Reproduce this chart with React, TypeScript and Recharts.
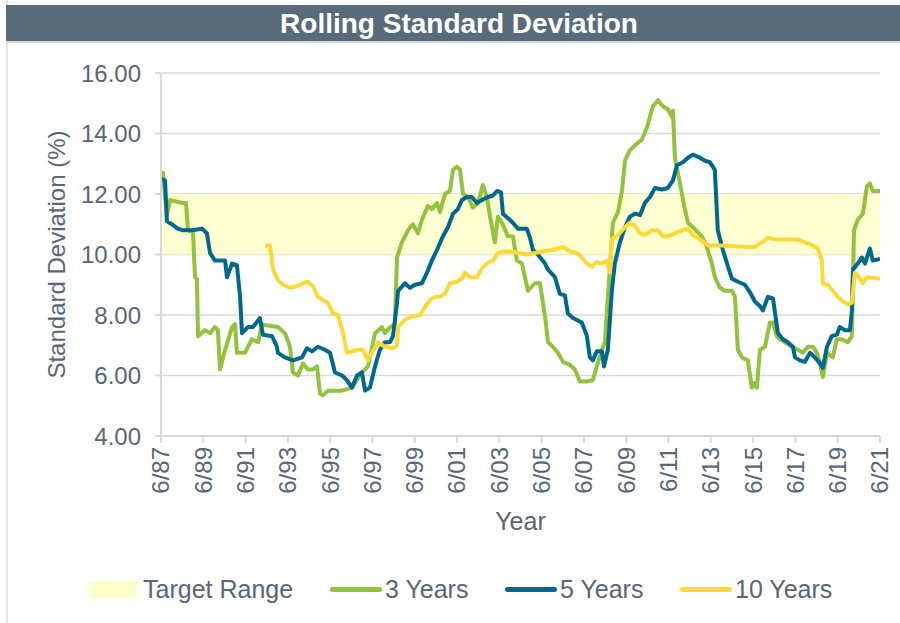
import { LineChart, Line, XAxis, YAxis, CartesianGrid, ReferenceArea, Label } from "recharts";

const FONT = '"Liberation Sans", Arial, sans-serif';
const TEXT = "#586676";
const GRID = "#d9d9d9";

// [year, std dev %], June 1987 .. June 2021
const threeYears: [number, number][] = [
  [1987.5, 12.7], [1987.59, 12.7], [1987.78, 11.3], [1987.93, 11.8], [1988.54, 11.7], [1988.68, 11.7],
  [1988.78, 10.8], [1989.01, 10.75], [1989.11, 9.25], [1989.2, 9.2], [1989.25, 7.3], [1989.58, 7.5],
  [1989.82, 7.4], [1990.05, 7.6], [1990.19, 7.5], [1990.29, 6.2], [1990.53, 6.85], [1990.86, 7.6],
  [1991.0, 7.7], [1991.09, 6.75], [1991.47, 6.75], [1991.8, 7.2], [1992.09, 7.1], [1992.28, 7.7],
  [1992.56, 7.65], [1993.03, 7.6], [1993.36, 7.4], [1993.6, 6.95], [1993.74, 6.1], [1993.98, 6.0],
  [1994.21, 6.4], [1994.45, 6.2], [1994.69, 6.2], [1994.88, 6.3], [1995.02, 5.4], [1995.16, 5.35],
  [1995.4, 5.5], [1996.06, 5.5], [1996.53, 5.6], [1996.77, 5.85], [1997.0, 6.1], [1997.29, 6.3],
  [1997.62, 7.4], [1997.95, 7.6], [1998.09, 7.4], [1998.33, 7.6], [1998.56, 7.7], [1998.66, 9.9],
  [1998.89, 10.4], [1999.18, 10.8], [1999.41, 11.0], [1999.65, 10.7], [1999.84, 11.15], [2000.12, 11.6],
  [2000.31, 11.5], [2000.55, 11.7], [2000.69, 11.4], [2000.93, 12.0], [2001.16, 12.1], [2001.31, 12.8],
  [2001.49, 12.9], [2001.64, 12.8], [2001.78, 12.0], [2002.02, 11.9], [2002.25, 11.55], [2002.49, 11.7],
  [2002.72, 12.3], [2002.91, 11.9], [2003.06, 11.25], [2003.29, 10.4], [2003.43, 11.25], [2003.62, 11.05],
  [2003.91, 10.6], [2004.14, 10.6], [2004.33, 9.8], [2004.57, 9.7], [2004.85, 8.8], [2005.18, 9.05],
  [2005.42, 9.05], [2005.66, 7.95], [2005.8, 7.1], [2006.03, 6.95], [2006.27, 6.75], [2006.51, 6.45],
  [2006.84, 6.35], [2007.07, 6.2], [2007.31, 5.8], [2007.64, 5.8], [2007.92, 5.85], [2008.11, 6.3],
  [2008.35, 6.85], [2008.49, 7.1], [2008.73, 9.6], [2008.87, 11.05], [2009.11, 11.4], [2009.3, 12.1],
  [2009.44, 13.1], [2009.67, 13.45], [2009.91, 13.6], [2010.24, 13.8], [2010.48, 14.2], [2010.62, 14.55],
  [2010.76, 14.9], [2011.0, 15.1], [2011.23, 14.9], [2011.47, 14.8], [2011.66, 14.55], [2011.71, 14.75],
  [2011.8, 13.2], [2012.04, 12.35], [2012.27, 11.5], [2012.42, 11.05], [2012.65, 10.9], [2013.08, 10.6],
  [2013.31, 10.25], [2013.55, 9.7], [2013.69, 9.25], [2013.93, 8.9], [2014.17, 8.8], [2014.5, 8.8],
  [2014.64, 8.6], [2014.78, 6.85], [2014.97, 6.6], [2015.25, 6.5], [2015.44, 5.6], [2015.58, 5.75],
  [2015.68, 5.6], [2015.82, 6.85], [2016.06, 6.95], [2016.29, 7.75], [2016.44, 7.75], [2016.62, 7.3],
  [2016.77, 7.2], [2017.0, 7.1], [2017.33, 6.95], [2017.62, 6.85], [2017.85, 6.75], [2018.09, 6.95],
  [2018.33, 6.95], [2018.52, 6.75], [2018.66, 6.4], [2018.8, 5.95], [2018.99, 6.75], [2019.27, 6.6],
  [2019.46, 7.2], [2019.7, 7.2], [2019.98, 7.1], [2020.17, 7.3], [2020.27, 10.8], [2020.45, 11.15],
  [2020.69, 11.35], [2020.88, 12.25], [2021.02, 12.35], [2021.16, 12.1], [2021.5, 12.1],
];

const fiveYears: [number, number][] = [
  [1987.5, 12.5], [1987.69, 12.45], [1987.78, 11.1], [1988.02, 11.0], [1988.3, 10.85], [1988.54, 10.8],
  [1988.97, 10.8], [1989.44, 10.85], [1989.67, 10.7], [1989.82, 10.05], [1990.05, 9.8], [1990.53, 9.8],
  [1990.62, 9.25], [1990.86, 9.7], [1991.09, 9.65], [1991.24, 8.6], [1991.33, 7.4], [1991.61, 7.6],
  [1991.85, 7.6], [1992.18, 7.9], [1992.32, 7.35], [1992.75, 7.3], [1992.98, 6.95], [1993.03, 6.75],
  [1993.36, 6.6], [1993.74, 6.5], [1994.17, 6.6], [1994.4, 6.9], [1994.64, 6.8], [1994.92, 6.95],
  [1995.25, 6.85], [1995.49, 6.75], [1995.73, 6.1], [1996.06, 6.0], [1996.29, 5.85], [1996.53, 5.6],
  [1996.77, 6.0], [1997.0, 6.1], [1997.15, 5.5], [1997.38, 5.6], [1997.62, 6.3], [1997.85, 6.85],
  [1998.09, 7.1], [1998.33, 7.1], [1998.47, 7.3], [1998.66, 8.4], [1998.71, 8.8], [1999.04, 9.05],
  [1999.27, 8.9], [1999.51, 9.0], [1999.84, 9.05], [2000.08, 9.4], [2000.31, 9.8], [2000.55, 10.15],
  [2000.83, 10.6], [2001.07, 10.9], [2001.31, 11.35], [2001.54, 11.5], [2001.73, 11.8], [2001.97, 11.9],
  [2002.2, 11.9], [2002.44, 11.7], [2002.68, 11.8], [2002.96, 11.9], [2003.2, 11.95], [2003.39, 12.1],
  [2003.58, 12.05], [2003.67, 11.35], [2003.91, 11.2], [2004.14, 11.05], [2004.38, 10.85], [2004.8, 10.85],
  [2004.95, 10.55], [2005.09, 10.15], [2005.32, 10.0], [2005.66, 9.7], [2005.8, 9.5], [2006.13, 9.25],
  [2006.36, 8.7], [2006.6, 8.65], [2006.74, 8.05], [2006.98, 7.9], [2007.4, 7.75], [2007.64, 7.3],
  [2007.78, 6.6], [2007.92, 6.5], [2008.11, 6.8], [2008.35, 6.8], [2008.45, 6.3], [2008.63, 6.85],
  [2008.82, 8.8], [2008.96, 9.7], [2009.2, 10.4], [2009.44, 10.9], [2009.67, 11.25], [2009.91, 11.35],
  [2010.15, 11.3], [2010.38, 11.7], [2010.62, 11.9], [2010.86, 12.2], [2011.19, 12.15], [2011.47, 12.2],
  [2011.71, 12.45], [2011.9, 12.95], [2012.18, 13.05], [2012.42, 13.2], [2012.65, 13.3], [2012.98, 13.2],
  [2013.22, 13.1], [2013.46, 13.05], [2013.69, 12.8], [2013.83, 10.8], [2014.07, 10.15], [2014.31, 9.6],
  [2014.5, 9.2], [2014.78, 9.1], [2015.11, 9.0], [2015.35, 8.75], [2015.58, 8.45], [2015.82, 8.3],
  [2015.96, 8.15], [2016.2, 8.6], [2016.44, 8.55], [2016.67, 7.4], [2016.91, 7.2], [2017.14, 7.1],
  [2017.38, 6.95], [2017.48, 6.6], [2017.71, 6.5], [2017.95, 6.45], [2018.19, 6.75], [2018.42, 6.6],
  [2018.66, 6.4], [2018.8, 6.25], [2018.99, 6.95], [2019.22, 7.3], [2019.46, 7.35], [2019.6, 7.6],
  [2019.84, 7.5], [2020.08, 7.5], [2020.17, 8.15], [2020.22, 9.5], [2020.45, 9.7], [2020.64, 9.9],
  [2020.79, 9.7], [2021.02, 10.2], [2021.16, 9.8], [2021.5, 9.85],
];

const tenYears: [number, number][] = [
  [1992.42, 10.3], [1992.65, 10.3], [1992.8, 9.5], [1993.03, 9.15], [1993.27, 9.0], [1993.6, 8.9],
  [1993.93, 8.95], [1994.21, 9.05], [1994.45, 9.1], [1994.69, 8.95], [1994.92, 8.6], [1995.16, 8.5],
  [1995.4, 8.4], [1995.63, 8.05], [1995.87, 8.0], [1996.11, 7.4], [1996.29, 6.75], [1996.53, 6.8],
  [1996.81, 6.85], [1997.05, 6.85], [1997.29, 6.5], [1997.52, 6.8], [1997.76, 7.1], [1998.09, 6.95],
  [1998.47, 6.9], [1998.66, 7.0], [1998.71, 7.6], [1999.04, 7.85], [1999.37, 7.95], [1999.75, 8.0],
  [1999.98, 8.25], [2000.22, 8.5], [2000.45, 8.6], [2000.69, 8.6], [2000.93, 8.7], [2001.16, 9.05],
  [2001.49, 9.1], [2001.73, 9.2], [2001.87, 9.4], [2002.11, 9.25], [2002.44, 9.25], [2002.68, 9.55],
  [2002.91, 9.7], [2003.2, 9.8], [2003.43, 10.05], [2003.76, 10.1], [2004.1, 10.1], [2004.38, 10.05],
  [2004.85, 10.0], [2005.51, 10.1], [2005.99, 10.15], [2006.51, 10.25], [2006.84, 10.1], [2007.17, 10.05],
  [2007.4, 9.9], [2007.64, 9.7], [2007.88, 9.6], [2008.11, 9.75], [2008.35, 9.7], [2008.59, 9.8],
  [2008.73, 9.4], [2008.82, 10.5], [2009.11, 10.65], [2009.44, 10.9], [2009.67, 11.05], [2009.91, 10.95],
  [2010.15, 10.7], [2010.38, 10.65], [2010.71, 10.8], [2011.0, 10.8], [2011.23, 10.6], [2011.47, 10.6],
  [2011.8, 10.7], [2012.13, 10.8], [2012.42, 10.85], [2012.65, 10.65], [2012.98, 10.5], [2013.36, 10.3],
  [2014.0, 10.3], [2014.5, 10.28], [2015.25, 10.25], [2015.58, 10.25], [2015.92, 10.4], [2016.2, 10.55],
  [2016.53, 10.5], [2017.62, 10.5], [2017.95, 10.4], [2018.33, 10.3], [2018.56, 10.2], [2018.75, 9.8],
  [2018.8, 9.05], [2019.04, 9.0], [2019.27, 8.8], [2019.51, 8.6], [2019.75, 8.45], [2019.98, 8.35],
  [2020.17, 8.4], [2020.31, 9.4], [2020.45, 9.3], [2020.69, 9.05], [2020.88, 9.25], [2021.5, 9.2],
];

const targetRange = [10, 12];
const yTicks = [4, 6, 8, 10, 12, 14, 16];
const xTicks = [1987.5, 1989.5, 1991.5, 1993.5, 1995.5, 1997.5, 1999.5, 2001.5, 2003.5, 2005.5, 2007.5, 2009.5, 2011.5, 2013.5, 2015.5, 2017.5, 2019.5, 2021.5];
const xTickLabels = ["6/87", "6/89", "6/91", "6/93", "6/95", "6/97", "6/99", "6/01", "6/03", "6/05", "6/07", "6/09", "6/11", "6/13", "6/15", "6/17", "6/19", "6/21"];

const series = [
  { name: "3 Years", data: threeYears, color: "#93c23d" },
  { name: "5 Years", data: fiveYears, color: "#00688f" },
  { name: "10 Years", data: tenYears, color: "#fdd936" },
];

const toRows = (pts: [number, number][]) => pts.map(([t, v]) => ({ t, v }));

function XTick({ x, y, payload }: any) {
  const label = xTickLabels[xTicks.indexOf(payload.value)];
  return (
    <text x={x} y={y} transform={`rotate(-90 ${x} ${y})`} textAnchor="end" dy="0.35em"
      fill={TEXT} fontSize={24} fontFamily={FONT}>
      {label}
    </text>
  );
}

function YTitle({ viewBox }: any) {
  const x = viewBox.x + 27;
  const y = viewBox.y + viewBox.height / 2;
  return (
    <text x={x} y={y} transform={`rotate(-90 ${x} ${y})`} textAnchor="middle" dy="0.35em"
      fill={TEXT} fontSize={24} fontFamily={FONT}>
      Standard Deviation (%)
    </text>
  );
}

function LegendRow() {
  const item = { position: "absolute" as const, top: 574, fontSize: 25, color: TEXT, fontFamily: FONT, lineHeight: "30px" };
  return (
    <>
      <div style={{ position: "absolute", left: 89, top: 581, width: 49, height: 17, background: "#ffffcc" }} />
      <div style={{ ...item, left: 143 }}>Target Range</div>
      {series.map((s, i) => (
        <div key={s.name}>
          <div style={{ position: "absolute", left: 330 + i * 175, top: 587, width: 52, height: 5, borderRadius: 3, background: s.color }} />
          <div style={{ ...item, left: 385 + i * 175 }}>{s.name}</div>
        </div>
      ))}
    </>
  );
}

export default function App() {
  return (
    <div style={{ position: "absolute", left: 0, top: 0, width: 900, height: 623, background: "#fff", fontFamily: FONT, overflow: "hidden" }}>
      <div style={{ position: "absolute", left: 6, top: 0, width: 2, height: 623, background: "#e3e3e3" }} />
      <div style={{ position: "absolute", left: 6, top: 5, width: 894, height: 38, background: "#596a79",
        borderBottom: "2px solid #d6d6d6", color: "#fff", fontWeight: "bold", fontSize: 28,
        lineHeight: "38px", textAlign: "center", paddingLeft: 12, boxSizing: "border-box" }}>
        Rolling Standard Deviation
      </div>
      <LineChart width={900} height={623} margin={{ top: 73, right: 20, bottom: 127, left: 30 }}
        style={{ position: "absolute", left: 0, top: 0 }}>
        <CartesianGrid vertical={false} stroke={GRID} strokeWidth={1.5} />
        <ReferenceArea y1={targetRange[0]} y2={targetRange[1]} fill="#ffffcc" fillOpacity={0.9} stroke="none" ifOverflow="extendDomain" />
        <XAxis dataKey="t" type="number" domain={[1987.5, 2021.5]} ticks={xTicks} allowDataOverflow
          height={60} tick={<XTick />} tickSize={7} tickMargin={4} interval={0}
          axisLine={{ stroke: GRID, strokeWidth: 2 }} tickLine={{ stroke: GRID, strokeWidth: 2 }}>
          <Label value="Year" position="bottom" offset={16} fill={TEXT} fontSize={25} fontFamily={FONT} />
        </XAxis>
        <YAxis type="number" domain={[4, 16]} ticks={yTicks} width={131} interval={0}
          tickFormatter={(v: number) => v.toFixed(2)} tickSize={6} tickMargin={14}
          tick={{ fill: TEXT, fontSize: 24, fontFamily: FONT }}
          axisLine={{ stroke: GRID, strokeWidth: 2 }} tickLine={{ stroke: GRID, strokeWidth: 2 }}>
          <Label content={<YTitle />} />
        </YAxis>
        {series.map((s) => (
          <Line key={s.name} data={toRows(s.data)} dataKey="v" name={s.name} type="linear"
            stroke={s.color} strokeWidth={4} dot={false} activeDot={false}
            isAnimationActive={false} strokeLinejoin="round" />
        ))}
      </LineChart>
      <LegendRow />
    </div>
  );
}
